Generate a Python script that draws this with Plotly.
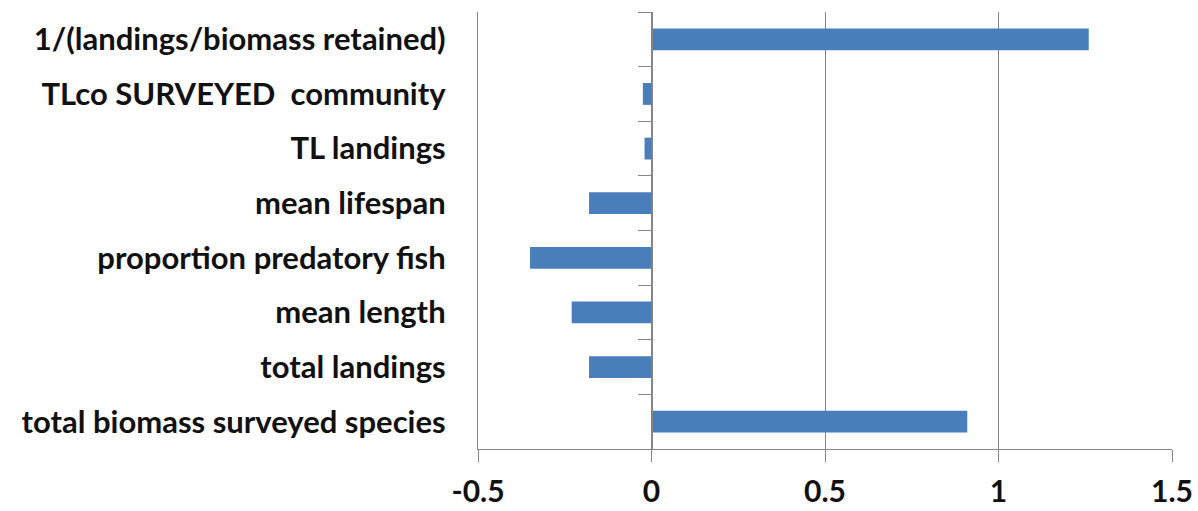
import plotly.graph_objects as go

# Indicator names, listed bottom to top
indicators = [
    "total biomass surveyed species",
    "total landings",
    "mean length",
    "proportion predatory fish",
    "mean lifespan",
    "TL landings",
    "TLco SURVEYED  community",
    "1/(landings/biomass retained)",
]
values = [0.91, -0.18, -0.23, -0.35, -0.18, -0.02, -0.025, 1.26]

x_ticks = [-0.5, 0, 0.5, 1, 1.5]
x_tick_text = ["-0.5", "0", "0.5", "1", "1.5"]

BAR = "#4a7ebb"
GRID = "#868686"
FONT = "Lato"

fig = go.Figure()
fig.add_trace(go.Bar(
    x=values, y=indicators, orientation="h",
    marker=dict(color=BAR, line=dict(width=0)),
    yaxis="y", hoverinfo="x+y",
))
# companion axis at x = 0 carrying the category boundary ticks
fig.add_trace(go.Bar(
    x=values, y=indicators, orientation="h",
    marker=dict(color="rgba(0,0,0,0)", line=dict(width=0)),
    yaxis="y2", hoverinfo="skip", showlegend=False,
))

fig.update_layout(
    width=1198, height=511,
    margin=dict(l=478, r=26, t=12, b=62),
    paper_bgcolor="white", plot_bgcolor="white",
    showlegend=False,
    bargap=0.6,
    font=dict(family=FONT, color="#111111"),
    xaxis=dict(
        range=[-0.5, 1.5], tickvals=x_ticks, ticktext=x_tick_text,
        automargin=False,
        showgrid=True, gridcolor=GRID, gridwidth=1.3,
        zeroline=False,
        showline=True, linecolor=GRID, linewidth=1.3,
        ticks="outside", ticklen=12, tickcolor=GRID, tickwidth=1.3,
        ticklabelstandoff=4,
        tickfont=dict(family=FONT, size=30, color="#111111", weight="bold"),
    ),
    yaxis=dict(
        type="category", categoryorder="array", categoryarray=indicators,
        range=[-0.5, len(indicators) - 0.5],
        automargin=False,
        showgrid=False, zeroline=False,
        showline=True, linecolor=GRID, linewidth=1.3,
        ticks="", ticklabelstandoff=25,
        tickfont=dict(family=FONT, size=31, color="#111111", weight="bold"),
    ),
    yaxis2=dict(
        type="category", categoryorder="array", categoryarray=indicators,
        range=[-0.5, len(indicators) - 0.5],
        overlaying="y", anchor="free", position=0.25,
        automargin=False,
        showgrid=False, zeroline=False,
        showline=True, linecolor=GRID, linewidth=1.3,
        ticks="outside", tickson="boundaries", ticklen=13,
        tickcolor=GRID, tickwidth=1.3,
        showticklabels=False,
    ),
)

fig.write_html("out.html")
